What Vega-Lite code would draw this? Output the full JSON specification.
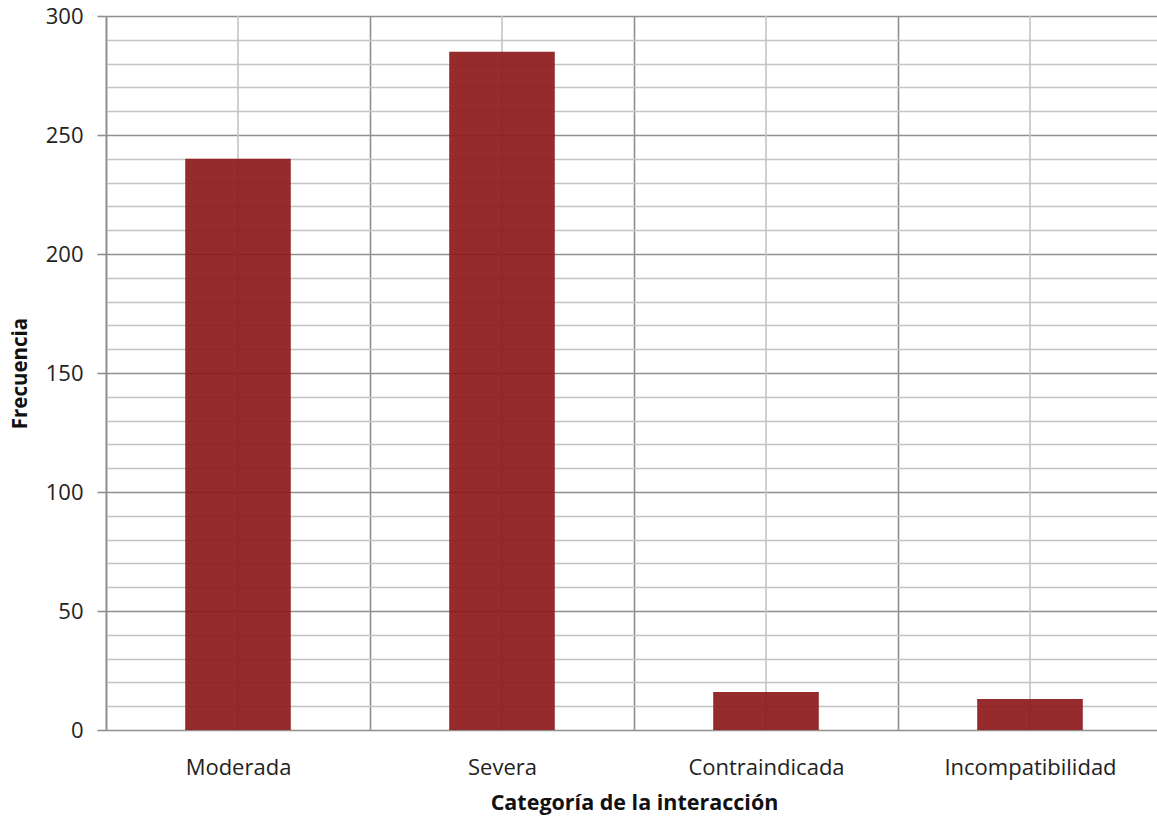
{
  "$schema": "https://vega.github.io/schema/vega-lite/v6.json",
  "autosize": "none",
  "width": 1056,
  "height": 714,
  "padding": {"left": 106, "top": 16, "right": 0, "bottom": 88},
  "background": "white",
  "data": {
    "values": [
      {"categoria": "Moderada", "frecuencia": 240},
      {"categoria": "Severa", "frecuencia": 285},
      {"categoria": "Contraindicada", "frecuencia": 16},
      {"categoria": "Incompatibilidad", "frecuencia": 13}
    ]
  },
  "config": {
    "view": {"stroke": null},
    "axis": {
      "labelFont": "Open Sans",
      "titleFont": "Open Sans",
      "labelColor": "#222",
      "titleColor": "#111"
    }
  },
  "encoding": {
    "x": {
      "field": "categoria",
      "type": "nominal",
      "sort": null,
      "scale": {"paddingInner": 0, "paddingOuter": 0},
      "axis": {
        "title": "Categoría de la interacción",
        "titleFontSize": 21.5,
        "titleFontWeight": "bold",
        "titleY": 73,
        "titleBaseline": "middle",
        "labelAngle": 0,
        "labelFontSize": 22,
        "labelBaseline": "middle",
        "labelPadding": 37,
        "ticks": false,
        "domain": false,
        "grid": true,
        "tickBand": "extent",
        "gridColor": "#8f8f8f",
        "gridWidth": 1.6
      }
    }
  },
  "layer": [
    {
      "mark": {"type": "rule", "color": "#c4c4c4", "strokeWidth": 1.6},
      "encoding": {}
    },
    {
      "mark": {"type": "bar", "width": {"band": 0.4}, "color": "#8d191c", "opacity": 0.92},
      "encoding": {
        "y": {
          "field": "frecuencia",
          "type": "quantitative",
          "scale": {"domain": [0, 300], "nice": false},
          "axis": {
            "title": "Frecuencia",
            "titleFontSize": 20.5,
            "titleFontWeight": "bold",
            "titleAngle": 270,
            "titleX": -86,
            "titleY": 357,
            "titleAlign": "center",
            "titleBaseline": "middle",
            "values": [0, 10, 20, 30, 40, 50, 60, 70, 80, 90, 100, 110, 120, 130, 140, 150, 160, 170, 180, 190, 200, 210, 220, 230, 240, 250, 260, 270, 280, 290, 300],
            "labelExpr": "datum.value % 50 === 0 ? datum.label : ''",
            "labelFontSize": 22,
            "labelPadding": 14,
            "tickSize": 9,
            "tickColor": "#8f8f8f",
            "tickWidth": 1.6,
            "tickOpacity": {"condition": {"test": "datum.value % 50 === 0", "value": 1}, "value": 0},
            "domainColor": "#8f8f8f",
            "domainWidth": 1.6,
            "grid": true,
            "gridColor": {"condition": {"test": "datum.value % 50 === 0", "value": "#8f8f8f"}, "value": "#c4c4c4"},
            "gridWidth": 1.6
          }
        }
      }
    }
  ]
}
